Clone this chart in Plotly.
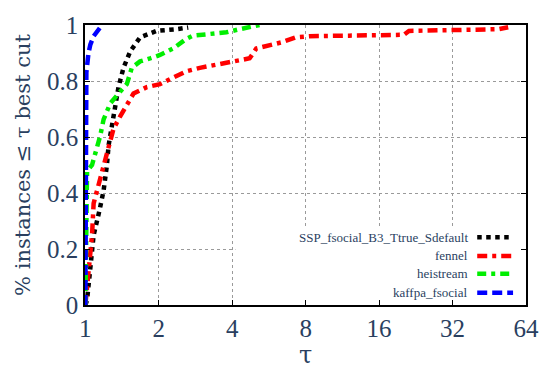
import plotly.graph_objects as go

# ---- data ----
ssp_tau = [1.0, 1.016, 1.048, 1.081, 1.144, 1.188, 1.226, 1.245, 1.285, 1.326, 1.367,
           1.433, 1.526, 1.676, 1.961, 2.365, 2.64]
ssp_y = [0.0, 0.017, 0.132, 0.249, 0.34, 0.409, 0.501, 0.57, 0.64, 0.709, 0.778,
         0.847, 0.905, 0.956, 0.979, 0.985, 0.991]

fennel_tau = [1.0, 1.016, 1.041, 1.065, 1.081, 1.133, 1.188, 1.245, 1.304, 1.389, 1.479,
              1.575, 1.785, 2.023, 2.291, 2.599, 2.946, 3.446, 4.03, 4.713, 5.017,
              5.68, 6.43, 7.28, 8.28, 12.05, 20.2, 21.2, 30.8, 49.3, 54.1]
fennel_y = [0.0, 0.063, 0.156, 0.249, 0.363, 0.432, 0.501, 0.56, 0.629, 0.674, 0.714,
            0.755, 0.778, 0.789, 0.812, 0.835, 0.847, 0.858, 0.87, 0.881, 0.916,
            0.927, 0.939, 0.956, 0.96, 0.962, 0.965, 0.979, 0.983, 0.985, 0.992]

heistream_tau = [1.0, 1.004, 1.008, 1.016, 1.065, 1.116, 1.151, 1.188, 1.265, 1.367,
                 1.479, 1.55, 1.676, 1.842, 2.023, 2.291, 2.599, 2.765, 3.139, 3.785,
                 4.288, 5.173]
heistream_y = [0.0, 0.2, 0.35, 0.478, 0.50, 0.559, 0.605, 0.663, 0.72, 0.755,
               0.789, 0.847, 0.87, 0.881, 0.893, 0.916, 0.951, 0.962, 0.968, 0.974,
               0.985, 1.0]

kaffpa_tau = [1.0, 1.003, 1.006, 1.0094, 1.03, 1.048, 1.081, 1.12, 1.17]
kaffpa_y = [0.0, 0.3, 0.6, 0.83, 0.9, 0.93, 0.96, 0.98, 1.0]

series_names = ["SSP_fsocial_B3_Ttrue_Sdefault", "fennel", "heistream", "kaffpa_fsocial"]
x_ticks = [1, 2, 4, 8, 16, 32, 64]
y_ticks = [0, 0.2, 0.4, 0.6, 0.8, 1]
y_title = "% instances ≤ τ best cut"
x_title = "τ"

styles = [
    dict(color="#000000", dash="4.5px,4.5px"),
    dict(color="#ff0000", dash="10px,5px,4px,5px"),
    dict(color="#00ee00", dash="9px,5px,4px,5px"),
    dict(color="#0000ff", dash="10px,5px"),
]
series = [(ssp_tau, ssp_y), (fennel_tau, fennel_y), (heistream_tau, heistream_y), (kaffpa_tau, kaffpa_y)]

FONT = "Liberation Serif"
TITLE_FONT = "DejaVu Serif"
fig = go.Figure()
for (xs, ys), name, st in zip(series, series_names, styles):
    fig.add_trace(go.Scatter(x=xs, y=ys, mode="lines", name=name, showlegend=False,
                             line=dict(color=st["color"], width=4.5, dash=st["dash"])))

L, R, T, B = 85, 528, 15.7, 305
W, H = 551, 370
def px2paper_x(px):
    return (px - L) / (R - L)
def py2paper_y(py):
    return (B - py) / (B - T)

# legend background (white box hiding gridlines)
shapes = [dict(type="rect", xref="x", yref="y", x0=4.12, x1=64, y0=0, y1=0.277,
               fillcolor="white", line=dict(width=0), layer="between")]
annotations = []
row_y = [235, 254.3, 272.7, 292.3]
for name, st, ry in zip(series_names, styles, row_y):
    annotations.append(dict(x=px2paper_x(471.5), y=py2paper_y(ry), xref="paper", yref="paper",
                            text=name, showarrow=False, xanchor="right", yanchor="middle",
                            font=dict(family=FONT, size=13)))
    shapes.append(dict(type="line", xref="paper", yref="paper",
                       x0=px2paper_x(479), x1=px2paper_x(515),
                       y0=py2paper_y(ry), y1=py2paper_y(ry),
                       line=dict(color=st["color"], width=4.5, dash=st["dash"]), layer="above"))
# axis titles
annotations.append(dict(x=px2paper_x(22), y=py2paper_y(160), xref="paper", yref="paper",
                        text=y_title, textangle=-90, showarrow=False,
                        xanchor="center", yanchor="middle", font=dict(family=TITLE_FONT, size=21)))
annotations.append(dict(x=px2paper_x(306), y=py2paper_y(357), xref="paper", yref="paper",
                        text=x_title, showarrow=False,
                        xanchor="center", yanchor="middle", font=dict(family=TITLE_FONT, size=24)))

fig.update_layout(
    width=W, height=H,
    margin=dict(l=L, r=W - R, t=T, b=H - B),
    paper_bgcolor="white", plot_bgcolor="white",
    font=dict(family=FONT, size=24),
    shapes=shapes, annotations=annotations,
    showlegend=False,
)
fig.update_xaxes(type="log", range=[-0.0015, 1.80618], tickvals=x_ticks,
                 showgrid=True, gridcolor="#9a9a9a", griddash="dot", gridwidth=1,
                 showline=True, linecolor="black", linewidth=1.5, mirror=True,
                 ticks="inside", ticklen=5, tickcolor="black",
                 tickfont=dict(family=FONT, size=25),
                 zeroline=False)
fig.update_yaxes(range=[0, 1], tickvals=y_ticks,
                 showgrid=True, gridcolor="#9a9a9a", griddash="dot", gridwidth=1,
                 showline=True, linecolor="black", linewidth=1.5, mirror="ticks",
                 ticks="inside", ticklen=5, tickcolor="black",
                 tickfont=dict(family=FONT, size=25),
                 zeroline=False)

fig.write_html("out.html")
